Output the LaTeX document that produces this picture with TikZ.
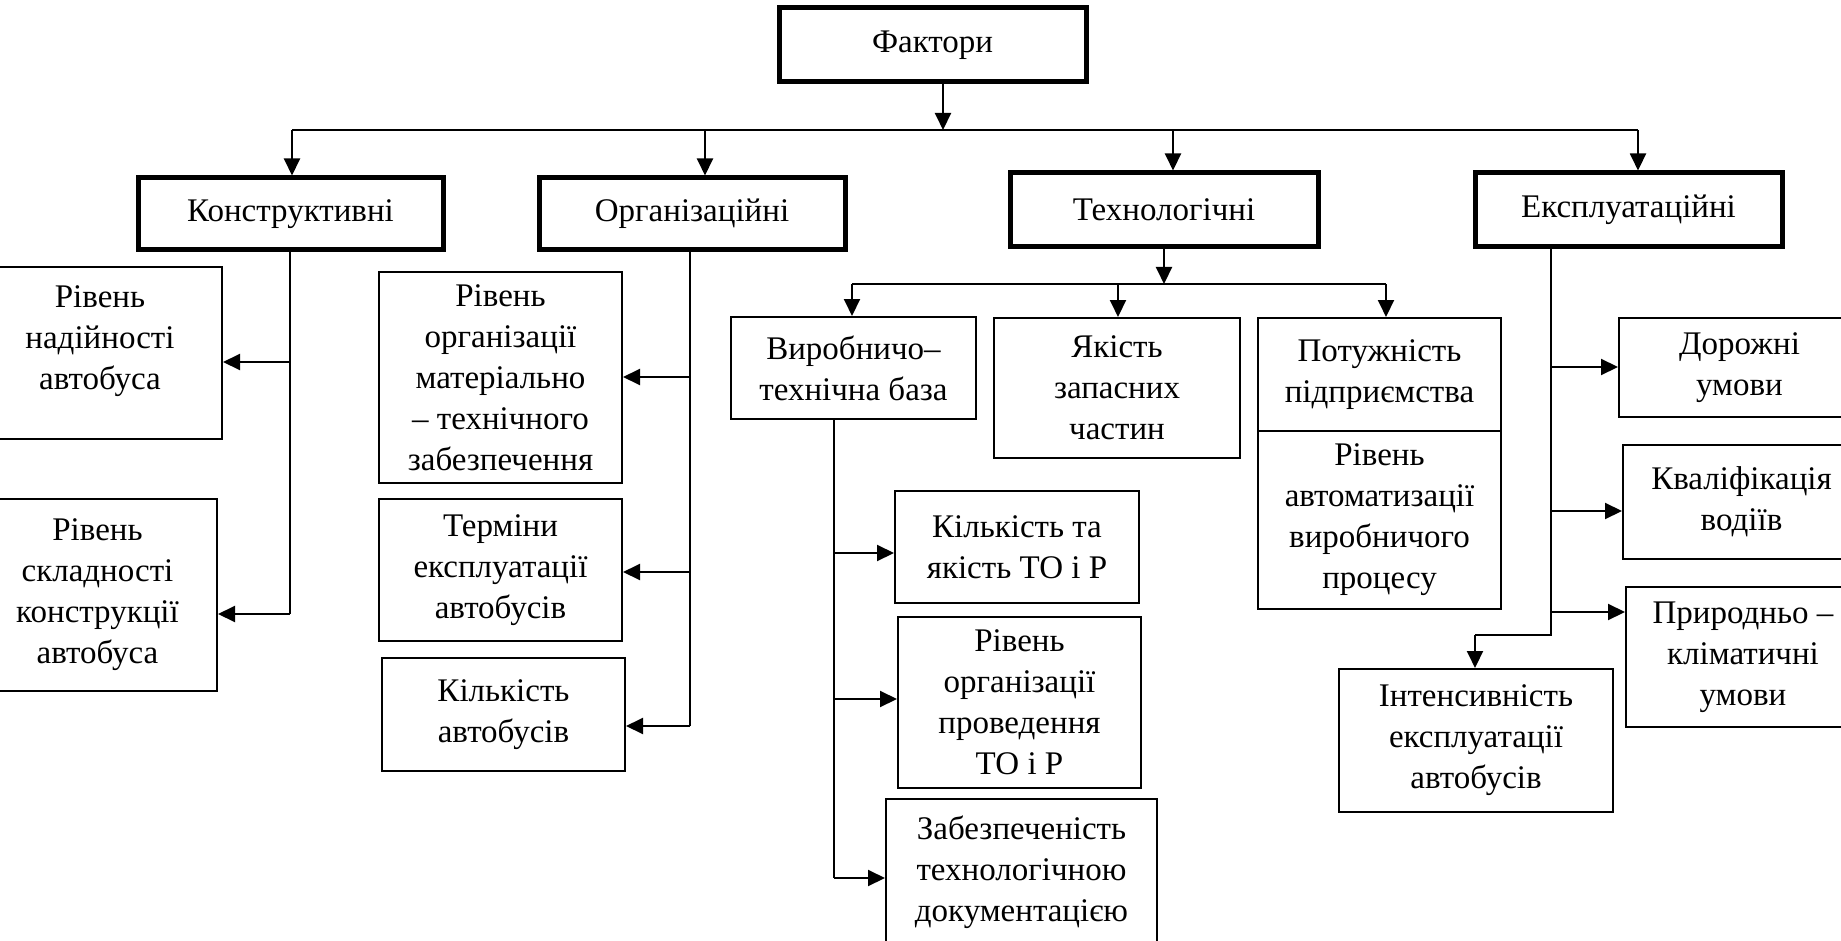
\documentclass[tikz,border=0pt]{standalone}
\usepackage{fontspec}
\setmainfont{Liberation Serif}
\usetikzlibrary{arrows.meta}
\tikzset{
  txt/.style={inner sep=0pt, align=center, font=\fontsize{33}{41}\selectfont},
  bx/.style={txt, draw, line width=2pt},
  topbx/.style={bx, line width=5pt},
  conn/.style={line width=2pt},
  arr/.style={conn, -{Triangle[length=17pt,width=16pt]}},
}
\newcommand\mybox[7]{\node[#1, minimum width={(#4-#2)*1pt}, minimum height={(#5-#3)*1pt}] (#6) at ({(#2+#4)/2},{(#3+#5)/2}) {#7};}
\begin{document}
\begin{tikzpicture}[x=1pt,y=-1pt]
\path[use as bounding box] (0,0) rectangle (1841,941);
\clip (0,0) rectangle (1841,941);
\fill[white] (0,0) rectangle (1841,941);

% level 0 and 1
\mybox{topbx}{779}{8}{1086}{82}{fakt}{Фактори}
\mybox{topbx}{138}{178}{443}{250}{konstr}{Конструктивні}
\mybox{topbx}{539}{178}{845}{250}{org}{Організаційні}
\mybox{topbx}{1010}{173}{1318}{247}{tech}{Технологічні}
\mybox{topbx}{1475}{173}{1782}{247}{expl}{Експлуатаційні}

% constructive
\mybox{bx}{-22}{267}{222}{439}{nad}{}
\node[txt] (nadt) at ([yshift=12pt]nad.center) {Рівень\\надійності\\автобуса};
\mybox{bx}{-22}{499}{217}{691}{skl}{Рівень\\складності\\конструкції\\автобуса}

% organisational
\mybox{bx}{379}{272}{622}{483}{mat}{Рівень\\організації\\матеріально\\– технічного\\забезпечення}
\mybox{bx}{379}{499}{622}{641}{term}{Терміни\\експлуатації\\автобусів}
\mybox{bx}{382}{658}{625}{771}{kilk}{Кількість\\автобусів}

% technological
\mybox{bx}{731}{317}{976}{419}{vyr}{Виробничо–\\технічна база}
\mybox{bx}{994}{318}{1240}{458}{yak}{Якість\\запасних\\частин}
\mybox{bx}{1258}{318}{1501}{431}{pot}{Потужність\\підприємства}
\mybox{bx}{1258}{431}{1501}{609}{avt}{Рівень\\автоматизації\\виробничого\\процесу}
\mybox{bx}{895}{491}{1139}{603}{kto}{Кількість та\\якість ТО і Р}
\mybox{bx}{898}{617}{1141}{788}{rivto}{Рівень\\організації\\проведення\\ТО і Р}
\mybox{bx}{886}{799}{1157}{945}{zab}{Забезпеченість\\технологічною\\документацією}

% operational
\mybox{bx}{1619}{318}{1860}{417}{dor}{Дорожні\\умови}
\mybox{bx}{1623}{445}{1860}{559}{kval}{Кваліфікація\\водіїв}
\mybox{bx}{1626}{587}{1860}{727}{pryr}{Природньо –\\кліматичні\\умови}
\mybox{bx}{1339}{669}{1613}{812}{int}{Інтенсивність\\експлуатації\\автобусів}

% top connectors
\coordinate (hL) at (292,130);
\coordinate (hO) at (705,130);
\coordinate (hT) at (1173,130);
\coordinate (hR) at (1638,130);
\coordinate (hF) at (943,130);
\draw[arr] (hF |- fakt.south) -- (hF);
\draw[conn] (hL) -- (hR);
\draw[arr] (hL) -- (hL |- konstr.north);
\draw[arr] (hO) -- (hO |- org.north);
\draw[arr] (hT) -- (hT |- tech.north);
\draw[arr] (hR) -- (hR |- expl.north);

% constructive branches
\coordinate (k1) at (290,362);
\coordinate (k2) at (290,614);
\draw[conn] (k2 |- konstr.south) -- (k2);
\draw[arr] (k1) -- (k1 -| nad.east);
\draw[arr] (k2) -- (k2 -| skl.east);

% organisational branches
\coordinate (o1) at (690,377);
\coordinate (o2) at (690,572);
\coordinate (o3) at (690,726);
\draw[conn] (o3 |- org.south) -- (o3);
\draw[arr] (o1) -- (o1 -| mat.east);
\draw[arr] (o2) -- (o2 -| term.east);
\draw[arr] (o3) -- (o3 -| kilk.east);

% technological branches
\coordinate (t0) at (1164,284);
\coordinate (tL) at (852,284);
\coordinate (tM) at (1118,284);
\coordinate (tR) at (1386,284);
\draw[arr] (t0 |- tech.south) -- (t0);
\draw[conn] (tL) -- (tR);
\draw[arr] (tL) -- (tL |- vyr.north);
\draw[arr] (tM) -- (tM |- yak.north);
\draw[arr] (tR) -- (tR |- pot.north);

\coordinate (v1) at (834,553);
\coordinate (v2) at (834,699);
\coordinate (v3) at (834,878);
\draw[conn] (v3 |- vyr.south) -- (v3);
\draw[arr] (v1) -- (v1 -| kto.west);
\draw[arr] (v2) -- (v2 -| rivto.west);
\draw[arr] (v3) -- (v3 -| zab.west);

% operational branches
\coordinate (e1) at (1551,367);
\coordinate (e2) at (1551,511);
\coordinate (e3) at (1551,612);
\coordinate (e4) at (1551,635);
\coordinate (e5) at (1475,635);
\draw[conn] (e4 |- expl.south) -- (e4) -- (e5);
\draw[arr] (e5) -- (e5 |- int.north);
\draw[arr] (e1) -- (e1 -| dor.west);
\draw[arr] (e2) -- (e2 -| kval.west);
\draw[arr] (e3) -- (e3 -| pryr.west);
\end{tikzpicture}
\end{document}
